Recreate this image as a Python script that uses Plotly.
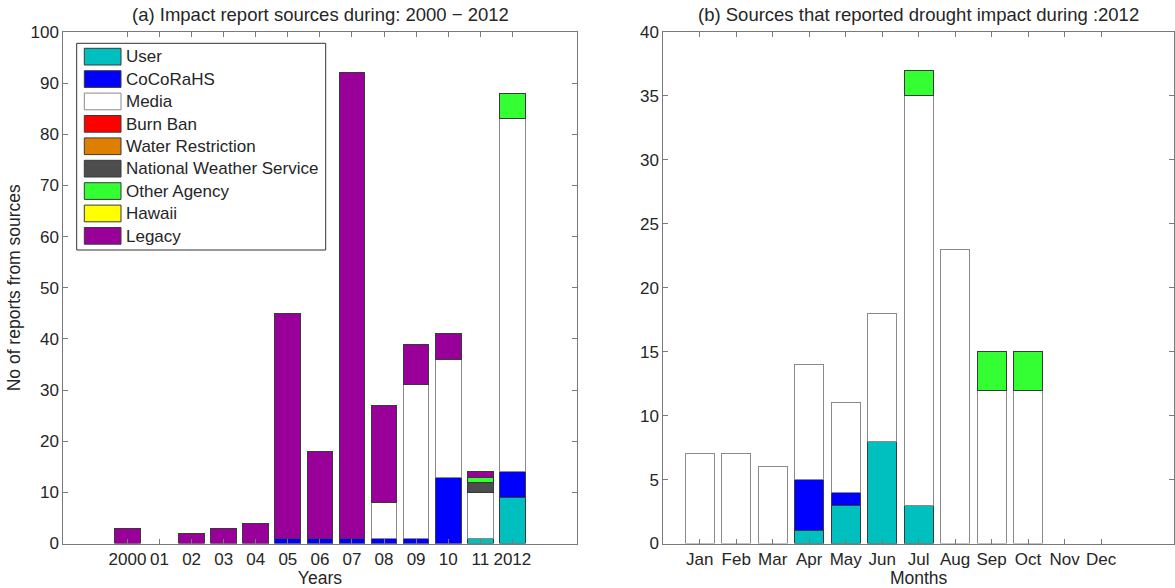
import plotly.graph_objects as go

# ---------------- data ----------------
sources = ["User", "CoCoRaHS", "Media", "Burn Ban", "Water Restriction",
           "National Weather Service", "Other Agency", "Hawaii", "Legacy"]
colors = ["#00BFBF", "#0000FF", "#FFFFFF", "#FF0000", "#DF7F00",
          "#4D4D4D", "#33FF33", "#FFFF00", "#990099"]

years = [2000, 2001, 2002, 2003, 2004, 2005, 2006, 2007, 2008, 2009, 2010, 2011, 2012]
year_labels = ["2000", "01", "02", "03", "04", "05", "06", "07", "08", "09", "10", "11", "2012"]

user_y      = [0, 0, 0, 0, 0, 0, 0, 0, 0, 0, 0, 1, 9]
cocorahs_y  = [0, 0, 0, 0, 0, 1, 1, 1, 1, 1, 13, 0, 5]
media_y     = [0, 0, 0, 0, 0, 0, 0, 0, 7, 30, 23, 9, 69]
burnban_y   = [0] * 13
water_y     = [0] * 13
nws_y       = [0, 0, 0, 0, 0, 0, 0, 0, 0, 0, 0, 2, 0]
other_y     = [0, 0, 0, 0, 0, 0, 0, 0, 0, 0, 0, 1, 5]
hawaii_y    = [0] * 13
legacy_y    = [3, 0, 2, 3, 4, 44, 17, 91, 19, 8, 5, 1, 0]

months = list(range(1, 13))
month_labels = ["Jan", "Feb", "Mar", "Apr", "May", "Jun", "Jul", "Aug", "Sep", "Oct", "Nov", "Dec"]

user_m      = [0, 0, 0, 1, 3, 8, 3, 0, 0, 0, 0, 0]
cocorahs_m  = [0, 0, 0, 4, 1, 0, 0, 0, 0, 0, 0, 0]
media_m     = [7, 7, 6, 9, 7, 10, 32, 23, 12, 12, 0, 0]
burnban_m   = [0] * 12
water_m     = [0] * 12
nws_m       = [0] * 12
other_m     = [0, 0, 0, 0, 0, 0, 2, 0, 3, 3, 0, 0]
hawaii_m    = [0] * 12
legacy_m    = [0] * 12

yearly = [user_y, cocorahs_y, media_y, burnban_y, water_y, nws_y, other_y, hawaii_y, legacy_y]
monthly = [user_m, cocorahs_m, media_m, burnban_m, water_m, nws_m, other_m, hawaii_m, legacy_m]

# ---------------- figure ----------------
W, H = 1175, 588
TXT = "#262626"
AX = "#7a7a7a"
FONT = "Liberation Sans, Arial, Helvetica, sans-serif"
TICK_FS = 17
LAB_FS = 17.5
TITLE_FS = 18.5
LEG_FS = 17

def nz(v):
    return [x if x else None for x in v]

def edge(col):
    return "#8a8a8a" if col == "#FFFFFF" else "#3a3a3a"

fig = go.Figure()
for name, col, vals in zip(sources, colors, yearly):
    fig.add_trace(go.Bar(x=years, y=nz(vals), name=name, marker_color=col,
                         marker_line_color=edge(col), marker_line_width=1, width=0.8,
                         xaxis="x", yaxis="y", showlegend=False))
for name, col, vals in zip(sources, colors, monthly):
    fig.add_trace(go.Bar(x=months, y=nz(vals), name=name, marker_color=col,
                         marker_line_color=edge(col), marker_line_width=1, width=0.8,
                         xaxis="x2", yaxis="y2", showlegend=False))

def px_x(p):
    return p / W

def px_y(p):
    return 1 - p / H

ydom = [px_y(543.5), px_y(32)]
axis_common = dict(showline=True, linecolor=AX, linewidth=1, mirror="ticks",
                   ticks="inside", ticklen=5, tickcolor=AX, showgrid=False,
                   zeroline=False, automargin=False,
                   tickfont=dict(size=TICK_FS, color=TXT, family=FONT))

fig.update_layout(
    width=W, height=H, margin=dict(l=0, r=0, t=0, b=0, autoexpand=False),
    paper_bgcolor="white", plot_bgcolor="white",
    barmode="stack", font=dict(family=FONT, color=TXT),
    xaxis=dict(domain=[px_x(63.3), px_x(576.5)], range=[1998, 2014],
               tickvals=years, ticktext=year_labels,
               title=dict(text="Years", font=dict(size=LAB_FS, color=TXT), standoff=0),
               anchor="y", **axis_common),
    yaxis=dict(domain=ydom, range=[0, 100], tickvals=list(range(0, 101, 10)),
               title=dict(text="No of reports from sources", font=dict(size=LAB_FS, color=TXT), standoff=5),
               anchor="x", **axis_common),
    xaxis2=dict(domain=[px_x(663.3), px_x(1174)], range=[0, 14],
                tickvals=months, ticktext=month_labels,
                title=dict(text="Months", font=dict(size=LAB_FS, color=TXT), standoff=0),
                anchor="y2", **axis_common),
    yaxis2=dict(domain=ydom, range=[0, 40], tickvals=list(range(0, 41, 5)),
                anchor="x2", **axis_common),
)

annotations = [
    dict(text="(a) Impact report sources during: 2000 \u2212 2012", x=px_x(320), y=px_y(14),
         xref="paper", yref="paper", xanchor="center", yanchor="middle",
         showarrow=False, font=dict(size=TITLE_FS, color=TXT)),
    dict(text="(b) Sources that reported drought impact during :2012", x=px_x(918), y=px_y(14),
         xref="paper", yref="paper", xanchor="center", yanchor="middle",
         showarrow=False, font=dict(size=TITLE_FS, color=TXT)),
]
shapes = [dict(type="rect", xref="paper", yref="paper",
               x0=px_x(76.7), x1=px_x(325.7), y0=px_y(250), y1=px_y(43.3),
               line=dict(color="#333333", width=1), fillcolor="white", layer="above")]
for i, (name, col) in enumerate(zip(sources, colors)):
    top = 48.3 + 22.4 * i
    shapes.append(dict(type="rect", xref="paper", yref="paper",
                       x0=px_x(84.3), x1=px_x(121), y0=px_y(top + 16.7), y1=px_y(top),
                       line=dict(color=edge(col), width=1), fillcolor=col, layer="above"))
    annotations.append(dict(text=name, x=px_x(124), y=px_y(top + 8.5), xref="paper", yref="paper",
                            xanchor="left", yanchor="middle", showarrow=False,
                            font=dict(size=LEG_FS, color=TXT)))
fig.update_layout(annotations=annotations, shapes=shapes)

fig.write_html("out.html", config={"displayModeBar": False},
               post_script="document.body.style.margin='0px';document.body.style.overflow='hidden';")
